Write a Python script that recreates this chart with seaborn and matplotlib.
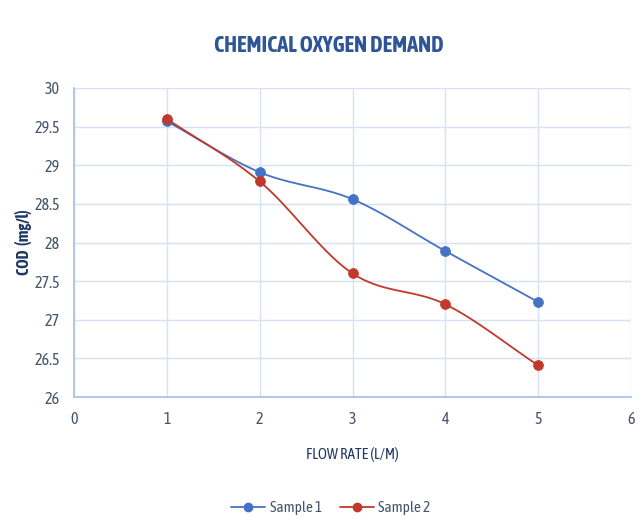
import numpy as np
import pandas as pd
import matplotlib
matplotlib.use("Agg")
import matplotlib.pyplot as plt
import seaborn as sns
from matplotlib.lines import Line2D

flow_rate = [1, 2, 3, 4, 5]
sample1 = [29.57, 28.91, 28.56, 27.89, 27.23]
sample2 = [29.60, 28.79, 27.60, 27.20, 26.41]
series_names = ["Sample 1", "Sample 2"]
colors = ["#4472c4", "#c0392b"]

sns.set_theme(style="white")
plt.rcParams['font.family'] = ['Asap Condensed', 'DejaVu Sans']

fig = plt.figure(figsize=(6.44, 5.24), dpi=100)
ax = fig.add_axes([74/644, 1-397/524, (631-74)/644, (397-88)/524])

def smooth(x, y, n=30):
    # Catmull-Rom style curve through the points (rendering only)
    x = np.asarray(x, float); y = np.asarray(y, float)
    px = np.concatenate([[2*x[0]-x[1]], x, [2*x[-1]-x[-2]]])
    py = np.concatenate([[2*y[0]-y[1]], y, [2*y[-1]-y[-2]]])
    xs, ys = [], []
    for i in range(1, len(px)-2):
        t = np.linspace(0, 1, n)
        for p, out in ((px, xs), (py, ys)):
            p0, p1, p2, p3 = p[i-1], p[i], p[i+1], p[i+2]
            out.extend(0.5*((2*p1) + (-p0+p2)*t + (2*p0-5*p1+4*p2-p3)*t**2 + (-p0+3*p1-3*p2+p3)*t**3))
    return np.array(xs), np.array(ys)

for name, vals, c in zip(series_names, [sample1, sample2], colors):
    sx, sy = smooth(flow_rate, vals)
    ax.plot(sx, sy, color=c, lw=1.3, zorder=3)
    df = pd.DataFrame({"x": flow_rate, "y": vals})
    sns.scatterplot(data=df, x="x", y="y", ax=ax, color=c, s=50, edgecolor=c, zorder=4)

ax.set_xlim(0, 6)
ax.set_ylim(26, 30)
ax.set_xticks(range(0, 7))
ax.set_yticks(np.arange(26, 30.01, 0.5))
ax.set_yticklabels(["26", "26.5", "27", "27.5", "28", "28.5", "29", "29.5", "30"])
ax.grid(True, color="#d6e1f2", lw=1)
for s in ["top", "right"]:
    ax.spines[s].set_visible(False)
for s in ["left", "bottom"]:
    ax.spines[s].set_color("#a9c1e6")
ax.tick_params(axis="both", length=0, labelsize=11.5, colors="#44546a", pad=10)

ax.set_xlabel("FLOW RATE (L/M)", fontsize=11, color="#1f3864", labelpad=14)
ax.set_ylabel("COD  (mg/l)", fontsize=11.5, color="#1f3864", fontweight="bold", labelpad=6)
ax.yaxis.set_label_coords(-42/557, 0.5)
fig.text(0.51, 1-46/524, "CHEMICAL OXYGEN DEMAND", ha="center", va="center",
         fontsize=16, fontweight="bold", color="#2f5597")

handles = [Line2D([0], [0], color=c, marker="o", markersize=6, lw=1.3) for c in colors]
fig.legend(handles, series_names, loc="center", bbox_to_anchor=(331/644, 1-508/524), ncol=2,
           frameon=False, fontsize=11, labelcolor="#44546a", handlelength=2.2,
           handletextpad=0.3, columnspacing=1.2)

fig.savefig("out.png", dpi=100)
